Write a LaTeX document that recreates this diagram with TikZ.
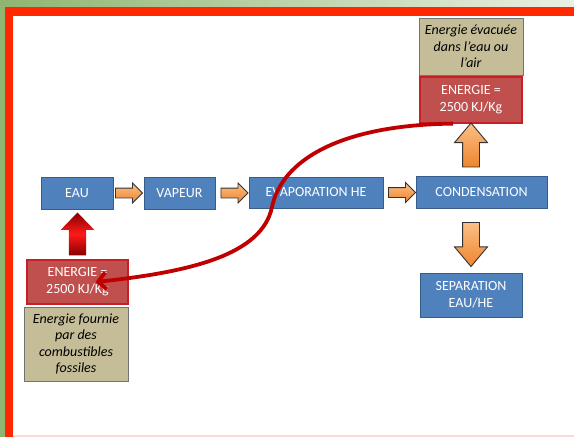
\documentclass[tikz,border=0pt]{standalone}
\usepackage{fontspec}
\setmainfont{Carlito}
\usetikzlibrary{shapes.arrows,arrows.meta}
\definecolor{bleu}{RGB}{79,129,189}
\definecolor{bleubord}{RGB}{56,93,138}
\definecolor{rougeboite}{RGB}{192,80,77}
\definecolor{rougebord}{RGB}{200,30,40}
\definecolor{sable}{RGB}{196,189,151}
\definecolor{cadre}{RGB}{255,40,0}
\definecolor{vert}{RGB}{143,181,113}
\definecolor{vertclair}{RGB}{234,240,226}
\definecolor{fleche}{RGB}{238,132,45}
\definecolor{flecheclair}{RGB}{251,192,135}
\definecolor{rougefonce}{RGB}{192,0,0}

\begin{document}
\begin{tikzpicture}[x=1pt,y=-1pt,
    boite/.style={draw=bleubord,line width=0.8pt,fill=bleu,text=white,align=center,inner sep=0pt,
        font=\fontsize{14}{17}\selectfont},
    energie/.style={boite,draw=rougebord,line width=1.2pt,fill=rougeboite},
    note/.style={draw=black!55,line width=0.8pt,fill=sable,align=center,inner sep=0pt,
        font=\itshape\fontsize{14}{16.5}\selectfont},
    fl/.style={single arrow,draw=black!80,line width=0.9pt,inner sep=4.5pt,
        single arrow head extend=5pt,minimum height=27pt,top color=flecheclair,bottom color=fleche},
    flv/.style={single arrow,draw=black!80,line width=0.9pt,inner sep=8pt,
        single arrow head extend=8pt,single arrow tip angle=80,minimum height=44pt,
        top color=flecheclair,bottom color=fleche},
    flrouge/.style={single arrow,inner sep=8.5pt,single arrow head extend=8pt,
        single arrow tip angle=88,minimum height=43pt,
        top color=rougefonce!70!black,bottom color=rougefonce!70!black,middle color=red!90},
    flux/.style={rougefonce,line width=3.8pt,-{Straight Barb[length=8pt,width=17pt]}}]
    \useasboundingbox (0,0) rectangle (574,437);
    % fond et cadre
    \shade[left color=vert,right color=vertclair] (0,0) rectangle (574,437);
    \fill[cadre] (5,7) rectangle (574,437);
    \fill[white] (13,16) rectangle (574,435);
    \fill[red!15] (13,435) rectangle (574,437);

    \node[boite,minimum width=72pt,minimum height=32pt] (eau) at (77,193) {EAU};
    \node[boite,minimum width=71pt,minimum height=32pt] (vapeur) at (179.5,193) {VAPEUR};
    \node[boite,minimum width=134pt,minimum height=31pt] (evap) at (316,192.5) {EVAPORATION HE};
    \node[boite,minimum width=131pt,minimum height=32pt] (cond) at (481.5,192) {CONDENSATION};
    \node[boite,minimum width=102pt,minimum height=44pt] (sep) at (471,295) {SEPARATION\\EAU/HE};

    \node[energie,minimum width=102pt,minimum height=46pt] (etop) at (471,100) {ENERGIE =\\2500 KJ/Kg};
    \node[note,minimum width=104pt,minimum height=57pt] (ntop) at (471,46.5) {Energie évacuée\\dans l’eau ou\\l’air};
    \node[energie,minimum width=101pt,minimum height=44pt] (ebot) at (77.5,282) {ENERGIE =\\2500 KJ/Kg};
    \node[note,minimum width=104pt,minimum height=74pt] (nbot) at (76,344) {Energie fournie\\par des\\combustibles\\fossiles};

    \node[fl] (f1) at (126.5,193) {};
    \node[fl] (f2) at (232,193) {};
    \node[fl] (f3) at (399.5,192.5) {};
    \node[flv,rotate=90] (f4) at (471,150) {};
    \node[flv,rotate=-90] (f5) at (471,239.5) {};
    \node[flrouge,rotate=90] (f6) at (77.5,238.5) {};

    \draw[flux] ([xshift=-18pt]etop.south) .. controls (340,125) and (282,160) .. (272,207)
        .. controls (262,255) and (190,272) .. ([xshift=18pt]ebot.center);
\end{tikzpicture}
\end{document}
